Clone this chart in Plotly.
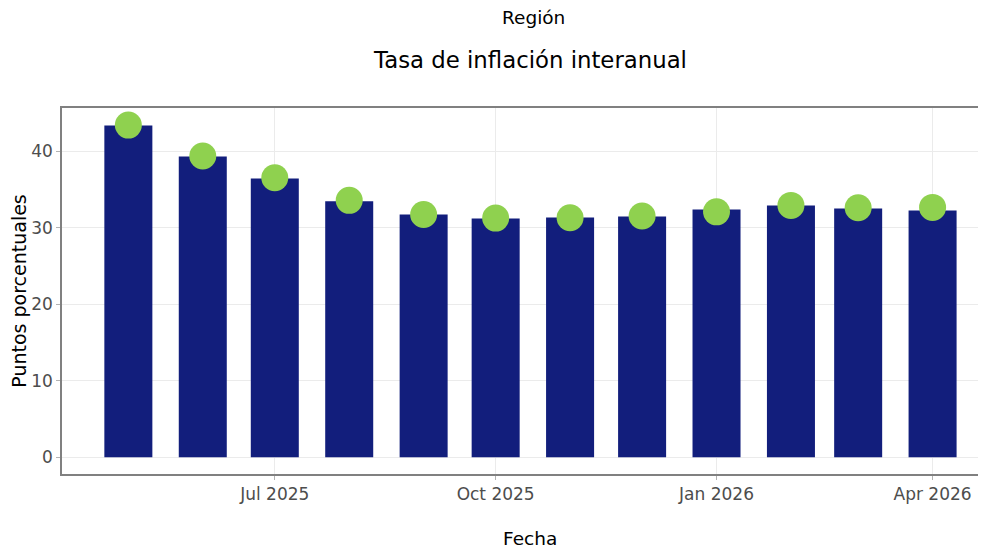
import plotly.graph_objects as go

fechas = ["2025-05-01", "2025-06-01", "2025-07-01", "2025-08-01", "2025-09-01", "2025-10-01",
          "2025-11-01", "2025-12-01", "2026-01-01", "2026-02-01", "2026-03-01", "2026-04-01"]
tasa_barras = [43.4, 39.35, 36.47, 33.5, 31.76, 31.24, 31.37, 31.5, 32.42, 32.94, 32.55, 32.29]
tasa_puntos = [43.44, 39.39, 36.56, 33.6, 31.75, 31.28, 31.33, 31.55, 32.1, 32.94, 32.64, 32.68]
tick_vals = ["2025-07-01", "2025-10-01", "2026-01-01", "2026-04-01"]
tick_text = ["Jul 2025", "Oct 2025", "Jan 2026", "Apr 2026"]

FONT = "DejaVu Sans"
BAR_W = 20 * 86400000  # 20 days in ms

W, H = 978, 543
ML, MT, MR = 54, 100, 0
PB = 465.7  # plot bottom in figure pixels
MB = H - PB

fig = go.Figure()
fig.add_trace(go.Bar(
    x=fechas, y=tasa_barras, width=[BAR_W] * len(fechas),
    marker=dict(color="#121E7C", line=dict(width=0)),
    name="Tasa", showlegend=False,
))
fig.add_trace(go.Scatter(
    x=fechas, y=tasa_puntos, mode="markers",
    marker=dict(color="#8FD14F", size=27, line=dict(width=0)),
    name="Tasa", showlegend=False,
))

def to_paper(px, py):
    return (px - ML) / (W - MR - ML), (PB - py) / (PB - MT)

rx, ry = to_paper(533.5 - 8, 17.5 - 8)
fx, fy = to_paper(530 - 8, 538 - 8)

fig.update_layout(
    width=W, height=H,
    margin=dict(l=ML, r=MR, t=MT, b=MB, pad=0),
    paper_bgcolor="white", plot_bgcolor="white",
    font=dict(family=FONT, color="black"),
    title=dict(text="Tasa de inflación interanual", font=dict(family=FONT, size=22.8, color="black"),
               x=(530.5 - 8) / W, xref="container", xanchor="center",
               y=1 - (60 - 8) / H, yref="container", yanchor="middle"),
    xaxis=dict(
        type="date", range=["2025-04-03 08:40", "2026-04-23 06:00"],
        tickvals=tick_vals, ticktext=tick_text,
        tickfont=dict(family=FONT, size=17, color="#4D4D4D"),
        ticks="outside", ticklen=4, tickcolor="#B3B3B3",
        showgrid=True, gridcolor="#EBEBEB", gridwidth=1,
        showline=True, linecolor="#808080", linewidth=1.5, mirror=True,
        zeroline=False,
    ),
    yaxis=dict(
        range=[-2.175, 45.675],
        tickvals=[0, 10, 20, 30, 40],
        tickfont=dict(family=FONT, size=17, color="#4D4D4D"),
        ticks="outside", ticklen=4, tickcolor="#B3B3B3",
        showgrid=True, gridcolor="#EBEBEB", gridwidth=1,
        showline=True, linecolor="#808080", linewidth=1.5,
        zeroline=False,
        title=dict(text="Puntos porcentuales", font=dict(family=FONT, size=19, color="black"), standoff=6),
    ),
    annotations=[
        dict(text="Región", x=rx, y=ry, xref="paper", yref="paper",
             showarrow=False, font=dict(family=FONT, size=18.5, color="black"),
             xanchor="center", yanchor="middle"),
        dict(text="Fecha", x=fx, y=fy, xref="paper", yref="paper", showarrow=False,
             font=dict(family=FONT, size=18.5, color="black"),
             xanchor="center", yanchor="middle"),
    ],
)

fig.write_html("out.html")
